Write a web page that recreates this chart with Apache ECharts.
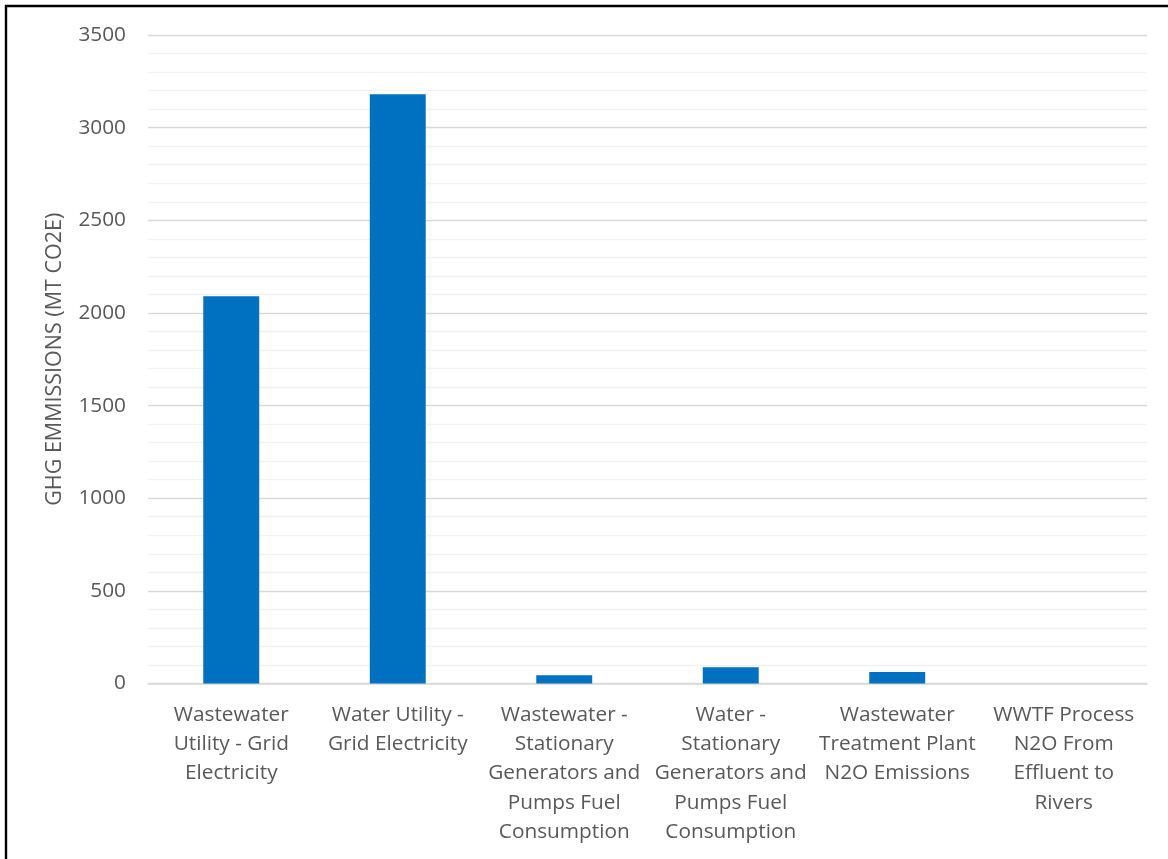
<!DOCTYPE html>
<html>
<head>
<meta charset="utf-8">
<script src="https://cdn.jsdelivr.net/npm/echarts@6/dist/echarts.min.js"></script>
<style>html,body{margin:0;padding:0;background:#fff;}#c{width:1168px;height:859px;}</style>
</head>
<body>
<div id="c"></div>
<script>
const categories = [
  "Wastewater\nUtility - Grid\nElectricity",
  "Water Utility -\nGrid Electricity",
  "Wastewater -\nStationary\nGenerators and\nPumps Fuel\nConsumption",
  "Water -\nStationary\nGenerators and\nPumps Fuel\nConsumption",
  "Wastewater\nTreatment Plant\nN2O Emissions",
  "WWTF Process\nN2O From\nEffluent to\nRivers"
];
const emissions = [2090, 3180, 45, 88, 62, 0];
const yAxisTitle = "GHG EMMISSIONS (MT CO2E)";

const chart = echarts.init(document.getElementById('c'));
const font = "'Open Sans', 'Noto Sans', sans-serif";
chart.setOption({
  animation: false,
  backgroundColor: '#fff',
  graphic: [{
    type: 'rect', shape: {x: 6, y: 6, width: 1300, height: 1000},
    style: {fill: 'none', stroke: '#000', lineWidth: 2.4}, z: 100
  }],
  grid: {left: 148, right: 21, top: 35, bottom: 175.5, containLabel: false},
  xAxis: {
    type: 'category',
    data: categories,
    axisLine: {show: true, lineStyle: {color: '#d9d9d9', width: 1.5}},
    axisTick: {show: false},
    axisLabel: {color: '#595959', fontSize: 20.8, fontFamily: font, lineHeight: 29.2, margin: 17, interval: 0, align: 'center'}
  },
  yAxis: {
    type: 'value', min: 0, max: 3500, interval: 500,
    name: yAxisTitle, nameLocation: 'middle', nameGap: 82,
    nameTextStyle: {color: '#595959', fontSize: 21.5, fontFamily: font},
    axisLine: {show: false}, axisTick: {show: false},
    axisLabel: {color: '#595959', fontSize: 20.8, fontFamily: font, margin: 22, formatter: v => String(v)},
    splitLine: {show: true, lineStyle: {color: '#d9d9d9', width: 1.3}},
    minorTick: {show: false, splitNumber: 5},
    minorSplitLine: {show: true, lineStyle: {color: '#f2f2f2', width: 1.3}}
  },
  series: [{
    type: 'bar', data: emissions, barWidth: '33.6%',
    itemStyle: {color: '#0070c0'}
  }]
});
</script>
</body>
</html>
